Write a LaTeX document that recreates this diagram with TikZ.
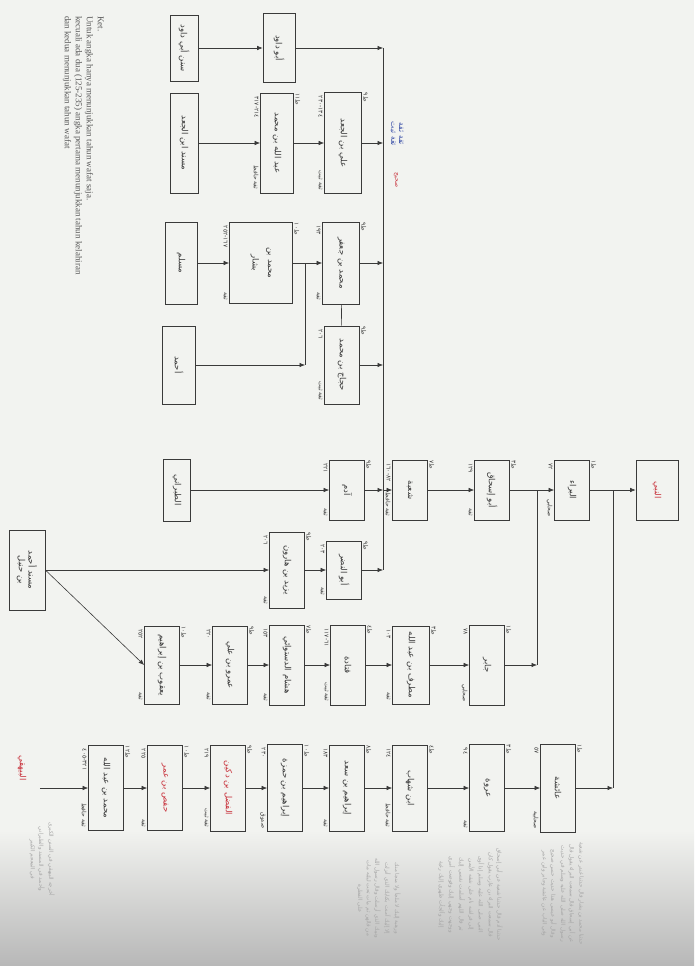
\documentclass[tikz,border=0pt]{standalone}
\usepackage{fontspec}
\setmainfont{Liberation Serif}
\newfontfamily\arabicfont[Script=Arabic]{DejaVu Sans}
\TeXXeTstate=1
\usepackage{graphicx}
\usetikzlibrary{arrows.meta}
\definecolor{paper}{HTML}{F2F3F0}
\definecolor{ink}{HTML}{3A3A3A}
\definecolor{redink}{HTML}{C8323C}
\definecolor{blueink}{HTML}{3A4FA8}
\newcommand\ar[1]{{\arabicfont\beginR #1\endR}}
\newcommand\vt[1]{\rotatebox{-90}{#1}}
% years above the arrow, grade below it, tabaqa at the corner
\newcommand\rawi[4]{%
	\node[tag,anchor=north east] (#1-y) at ([xshift=-1pt,yshift=-3pt]#1.north west) {\vt{\arabicfont #2}};
	\node[tag,anchor=south east] (#1-g) at ([xshift=-1pt,yshift=3pt]#1.south west) {\vt{#3}};
	\node[tag,anchor=north west] (#1-t) at ([xshift=1pt]#1.north east) {\vt{\ar{#4}}};}
\def\busx{383}
\def\rowA{48}
\def\rowB{143}
\def\rowC{263}
\def\rowD{365}
\def\rowE{490}
\def\rowF{570}
\def\rowG{665}
\def\rowH{788}

\begin{document}
\begin{tikzpicture}[x=1pt,y=-1pt,
		box/.style={draw=ink,line width=0.7pt,inner sep=1pt,minimum width=35pt,
			minimum height=80pt,text=ink,font=\fontsize{8.5}{10}\selectfont},
		hl/.style={text=redink},
		arr/.style={-{Latex[length=5.5pt,width=4.5pt]},line width=0.6pt,draw=ink},
		ln/.style={line width=0.6pt,draw=ink},
		tag/.style={inner sep=0.5pt,text=ink,font=\fontsize{6}{7}\selectfont},
		keytxt/.style={font=\fontsize{9}{11}\selectfont,text=black!65,align=left,inner sep=0pt},
		ghost/.style={font=\fontsize{5.5}{7}\selectfont,text=black!35,inner sep=0pt}]
	
	\fill[paper] (0,0) rectangle (694,966);
	\shade[top color=paper,bottom color=black!28] (0,830) rectangle (694,966);
	\useasboundingbox (0,0) rectangle (694,966);
	
	% ============ key ============
	\node[keytxt,rotate=-90,anchor=north west] (key) at (104,16)
	{Ket.\\Untuk angka hanya menunjukkan tahun wafat saja.\\
		kecuali ada dua (125-235) angka pertama menunjukkan tahun kelahiran\\
		dan kedua menunjukkan tahun wafat};
	
	% ============ upper branches into the bus ============
	\node[box,minimum width=28pt,minimum height=66pt] (sunan) at (184,\rowA) {\vt{\ar{سنن أبي داود}}};
	\node[box,minimum width=32pt,minimum height=69pt] (abudawud) at (279,\rowA) {\vt{\ar{أبو داود}}};
	
	\node[box,minimum width=28pt,minimum height=100pt] (musnad) at (184,\rowB) {\vt{\ar{مسند ابن الجعد}}};
	\node[box,minimum width=33pt,minimum height=100pt] (baghawi) at (277,\rowB) {\vt{\ar{عبد الله بن محمد}}};
	\node[box,minimum width=37pt,minimum height=101pt] (alijad) at (343,\rowB) {\vt{\ar{علي بن الجعد}}};
	
	\node[box,minimum width=32pt,minimum height=82pt] (muslim) at (181,\rowC) {\vt{\ar{مسلم}}};
	\node[box,minimum width=63pt,minimum height=81pt] (bashar) at (261,\rowC)
	{\vt{\shortstack{\ar{محمد بن}\\[4pt]\ar{بشار}}}};
	\node[box,minimum width=37pt,minimum height=82pt] (ghundar) at (341,\rowC) {\vt{\ar{محمد بن جعفر}}};
	
	\node[box,minimum width=33pt,minimum height=78pt] (ahmad) at (179,\rowD) {\vt{\ar{أحمد}}};
	\node[box,minimum width=35pt,minimum height=78pt] (hajjaj) at (342,\rowD) {\vt{\ar{حجاج بن محمد}}};
	
	\node[box,minimum width=27pt,minimum height=62pt] (tabarani) at (177,\rowE) {\vt{\ar{الطبراني}}};
	\node[box,minimum height=60pt] (adam) at (347,\rowE) {\vt{\ar{آدم}}};
	
	\node[box,minimum width=36pt] (musnadahmad) at (27,\rowF)
	{\vt{\shortstack{\ar{مسند أحمد}\\\ar{بن حنبل}}}};
	\node[box,minimum height=76pt] (yazid) at (287,\rowF) {\vt{\ar{يزيد بن هارون}}};
	\node[box,minimum height=58pt] (abunadr) at (344,\rowF) {\vt{\ar{أبو النضر}}};
	
	% ============ main chain to the Prophet ============
	\node[box,minimum height=60pt] (shubah) at (410,\rowE) {\vt{\ar{شعبة}}};
	\node[box,minimum height=60pt] (abuishaq) at (492,\rowE) {\vt{\ar{أبو إسحاق}}};
	\node[box,minimum height=60pt] (bara) at (572,\rowE) {\vt{\ar{البراء}}};
	\node[box,hl,minimum width=42pt,minimum height=60pt] (nabi) at (657,\rowE) {\vt{\ar{النبي}}};
	
	% ============ lower chains ============
	\node[box,minimum height=78pt] (yaqub) at (162,\rowG) {\vt{\ar{يعقوب بن إبراهيم}}};
	\node[box,minimum height=78pt] (amr) at (230,\rowG) {\vt{\ar{عمرو بن علي}}};
	\node[box] (hisham) at (287,\rowG) {\vt{\ar{هشام الدستوائي}}};
	\node[box] (qatada) at (348,\rowG) {\vt{\ar{قتادة}}};
	\node[box,minimum width=37pt,minimum height=78pt] (mutarrif) at (411,\rowG) {\vt{\ar{مطرف بن عبد الله}}};
	\node[box] (jabir) at (487,\rowG) {\vt{\ar{جابر}}};
	
	\node[hl,font=\fontsize{8.5}{10}\selectfont] (bayhaqi) at (22,768) {\vt{\ar{البيهقي}}};
	\node[box,minimum height=85pt] (mhd) at (106,\rowH) {\vt{\ar{محمد بن عبد الله}}};
	\node[box,hl,minimum height=85pt] (hafs) at (165,\rowH) {\vt{\ar{حفص بن عمر}}};
	\node[box,hl,minimum height=86pt] (fadl) at (228,\rowH) {\vt{\ar{الفضل بن دكين}}};
	\node[box,minimum height=87pt] (ibhamza) at (285,\rowH) {\vt{\ar{إبراهيم بن حمزة}}};
	\node[box,minimum height=86pt] (ibsaad) at (347,\rowH) {\vt{\ar{إبراهيم بن سعد}}};
	\node[box,minimum height=86pt] (zuhri) at (410,\rowH) {\vt{\ar{ابن شهاب}}};
	\node[box,minimum height=87pt] (urwa) at (487,\rowH) {\vt{\ar{عروة}}};
	\node[box,minimum height=88pt] (aisha) at (558,\rowH) {\vt{\ar{عائشة}}};
	
	% ============ connectors ============
	\coordinate (bustop) at (\busx,\rowA);
	\coordinate (busbot) at (\busx,\rowF);
	\coordinate (split) at (305,\rowC);
	\coordinate (j1) at (537,\rowE);
	\coordinate (j2) at (613,\rowE);
	\draw[ln] (bustop) -- (busbot);
	
	\draw[arr] (sunan) -- (abudawud);
	\draw[arr] (abudawud) -- (abudawud -| bustop);
	\draw[arr] (musnad) -- (baghawi);
	\draw[arr] (baghawi) -- (alijad);
	\draw[arr] (alijad) -- (alijad -| bustop);
	\draw[arr] (muslim) -- (bashar);
	\draw[arr] (bashar) -- (ghundar);
	\draw[arr] (ghundar) -- (ghundar -| bustop);
	\draw[ln] (split) -- (split |- ahmad);
	\draw[arr] (ahmad) -- (split |- ahmad);
	\draw[ln] (ghundar) -- (hajjaj);
	\draw[arr] (hajjaj) -- (hajjaj -| bustop);
	\draw[arr] (tabarani) -- (adam);
	\draw[arr] (adam) -- (adam -| bustop);
	\draw[arr] (musnadahmad) -- (yazid);
	\draw[arr] (yazid) -- (abunadr);
	\draw[arr] (abunadr) -- (busbot);
	\draw[arr] (musnadahmad.east) -- (yaqub.west);
	
	\draw[arr] (shubah -| bustop) -- (shubah);
	\draw[arr] (shubah) -- (abuishaq);
	\draw[arr] (abuishaq) -- (bara);
	\draw[arr] (bara) -- (nabi);
	
	\draw[arr] (yaqub) -- (amr);
	\draw[arr] (amr) -- (hisham);
	\draw[arr] (hisham) -- (qatada);
	\draw[arr] (qatada) -- (mutarrif);
	\draw[arr] (mutarrif) -- (jabir);
	\draw[ln] (j1) -- (j1 |- jabir);
	\draw[arr] (jabir) -- (j1 |- jabir);
	
	\draw[arr,shorten <=10pt] (bayhaqi.east |- mhd) -- (mhd);
	\draw[arr] (mhd) -- (hafs);
	\draw[arr] (hafs) -- (fadl);
	\draw[arr] (fadl) -- (ibhamza);
	\draw[arr] (ibhamza) -- (ibsaad);
	\draw[arr] (ibsaad) -- (zuhri);
	\draw[arr] (zuhri) -- (urwa);
	\draw[arr] (urwa) -- (aisha);
	\draw[ln] (j2) -- (j2 |- aisha);
	\draw[arr] (aisha) -- (j2 |- aisha);
	
	% ============ labels ============
	\rawi{baghawi}{٢١٤-٣١٧}{\ar{ثقة حافظ}}{ط١١}
	\rawi{alijad}{١٣٤-٢٣٠}{\ar{ثقة ثبت}}{ط٩}
	\rawi{bashar}{١٦٧-٢٥٢}{\ar{ثقة}}{ط١٠}
	\rawi{ghundar}{١٩٣}{\ar{ثقة}}{ط٩}
	\rawi{hajjaj}{٢٠٦}{\ar{ثقة ثبت}}{ط٩}
	\rawi{adam}{٢٢١}{\ar{ثقة}}{ط٩}
	\rawi{yazid}{٢٠٦}{\ar{ثقة}}{ط٩}
	\rawi{abunadr}{٢٠٣}{\ar{ثقة}}{ط٩}
	\rawi{shubah}{٨٢-١٦٠}{\ar{ثقة حافظ}}{ط٧}
	\rawi{abuishaq}{١٢٩}{\ar{ثقة}}{ط٣}
	\rawi{bara}{٧٢}{\ar{صحابي}}{ط١}
	\rawi{yaqub}{٢٥٢}{\ar{ثقة}}{ط١٠}
	\rawi{amr}{٢٢٠}{\ar{ثقة}}{ط٩}
	\rawi{hisham}{١٥٣}{\ar{ثقة}}{ط٧}
	\rawi{qatada}{٦١-١١٧}{\ar{ثقة ثبت}}{ط٤}
	\rawi{mutarrif}{١٠٣}{\ar{ثقة}}{ط٣}
	\rawi{jabir}{٧٨}{\ar{صحابي}}{ط١}
	\rawi{mhd}{٣٢١-٤٠٥}{\ar{ثقة حافظ}}{ط١٢}
	\rawi{hafs}{٢٢٥}{\ar{ثقة}}{ط١٠}
	\rawi{fadl}{٢١٩}{\ar{ثقة ثبت}}{ط٩}
	\rawi{ibhamza}{٢٣٠}{\ar{صدوق}}{ط١٠}
	\rawi{ibsaad}{١٨٣}{\ar{ثقة}}{ط٨}
	\rawi{zuhri}{١٢٤}{\ar{ثقة حافظ}}{ط٤}
	\rawi{urwa}{٩٤}{\ar{ثقة}}{ط٣}
	\rawi{aisha}{٥٧}{\ar{صحابية}}{ط١}
	
	\node[text=blueink,font=\fontsize{7.5}{8.5}\selectfont,inner sep=0pt] (note) at (397,134)
	{\vt{\shortstack{\ar{ثقة ثقة}\\\ar{ثقة ثبت}}}};
	\node[text=redink,font=\fontsize{6}{7}\selectfont,inner sep=0pt] (note2) at (396,180) {\vt{\ar{صحيح}}};
	
	% ============ faded text from the page ============
	\node[ghost,anchor=north east] (ghostA) at (584,842)
	{\vt{\shortstack{\ar{حدثنا محمد بن بشار قال حدثنا غندر عن شعبة}\\
				\ar{عن أبي إسحاق قال سمعت البراء يقول قال}\\
				\ar{رسول الله صلى الله عليه وسلم في حديث}\\
				\ar{وقال أبو عيسى هذا حديث حسن صحيح}\\
				\ar{وفي الباب عن عائشة وجابر وابن عمر}}}};
	\node[ghost,anchor=north east] (ghostB) at (503,848)
	{\vt{\shortstack{\ar{حدثنا آدم قال حدثنا شعبة عن أبي إسحاق}\\
				\ar{قال سمعت البراء بن عازب يقول كان}\\
				\ar{النبي صلى الله عليه وسلم إذا أوى}\\
				\ar{إلى فراشه نام على شقه الأيمن}\\
				\ar{ثم قال اللهم أسلمت نفسي إليك}\\
				\ar{ووجهت وجهي إليك وفوضت أمري}\\
				\ar{إليك وألجأت ظهري إليك رغبة}}}};
	\node[ghost,anchor=north east] (ghostC) at (401,858)
	{\vt{\shortstack{\ar{ورهبة إليك لا ملجأ ولا منجا منك}\\
				\ar{إلا إليك آمنت بكتابك الذي أنزلت}\\
				\ar{ونبيك الذي أرسلت وقال رسول الله}\\
				\ar{من قالهن ثم مات تحت ليلته مات}\\
				\ar{على الفطرة}}}};
	\node[ghost,anchor=north east] (ghostD) at (55,822)
	{\vt{\shortstack{\ar{أخرجه البيهقي في السنن الكبرى}\\
				\ar{وأحمد في المسند والطبراني}\\
				\ar{في المعجم الكبير}}}};
	
\end{tikzpicture}
\end{document}
